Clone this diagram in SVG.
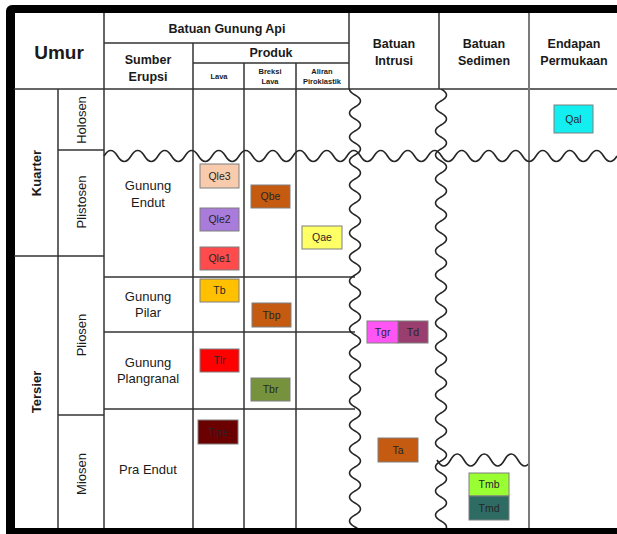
<svg xmlns="http://www.w3.org/2000/svg" width="617" height="534" viewBox="0 0 617 534">
<style>
.ln{stroke:#333;stroke-width:1.5;fill:none}
.lg{stroke:#7a7a7a;stroke-width:2;fill:none}
.wv{stroke:#262626;stroke-width:1.6;fill:none}
.hb{font-family:"Liberation Sans",Arial,sans-serif;font-weight:bold;fill:#1a1a1a;text-anchor:middle}
.hr{font-family:"Liberation Sans",Arial,sans-serif;fill:#1a1a1a;text-anchor:middle}
.bx{stroke:#7f7f7f;stroke-width:1}
.bt{font-family:"Liberation Sans",Arial,sans-serif;font-size:10.5px;fill:#262626;text-anchor:middle}
</style>
<defs>
<clipPath id="cBody"><rect x="0" y="89" width="617" height="439"/></clipPath>
<clipPath id="cSed"><rect x="430" y="89" width="98" height="439"/></clipPath>
</defs>
<rect width="617" height="534" fill="#fff"/>
<g id="frame">
<path d="M617,5 H12 a6,6 0 0 0 -6,6 V534 H617 V528 H15 V13 H617 Z" fill="#000"/>
</g>
<g id="grid">
<line class="ln" x1="14" y1="89" x2="617" y2="89"/>
<line class="ln" x1="104" y1="43" x2="349" y2="43"/>
<line class="ln" x1="193" y1="63" x2="349" y2="63"/>
<line class="ln" x1="58" y1="89" x2="58" y2="528"/>
<line class="ln" x1="104" y1="13" x2="104" y2="528"/>
<line class="ln" x1="193" y1="43" x2="193" y2="528"/>
<line class="ln" x1="244" y1="63" x2="244" y2="528"/>
<line class="ln" x1="296" y1="63" x2="296" y2="528"/>
<line class="ln" x1="349" y1="13" x2="349" y2="89"/>
<line class="ln" x1="439" y1="13" x2="439" y2="89"/>
<line class="lg" x1="529" y1="13" x2="529" y2="528"/>
<line class="ln" x1="58" y1="150" x2="104" y2="150"/>
<line class="ln" x1="14" y1="256" x2="104" y2="256"/>
<line class="ln" x1="58" y1="415" x2="104" y2="415"/>
<line class="ln" x1="104" y1="277" x2="355" y2="277"/>
<line class="ln" x1="104" y1="332" x2="355" y2="332"/>
<line class="ln" x1="104" y1="409" x2="355" y2="409"/>
</g>
<g id="unconformities">
<path class="wv" d="M104,156 q6.75,-11 13.5,0 t13.5,0 t13.5,0 t13.5,0 t13.5,0 t13.5,0 t13.5,0 t13.5,0 t13.5,0 t13.5,0 t13.5,0 t13.5,0 t13.5,0 t13.5,0 t13.5,0 t13.5,0 t13.5,0 t13.5,0 t13.5,0 t13.5,0 t13.5,0 t13.5,0 t13.5,0 t13.5,0 t13.5,0 t13.5,0 t13.5,0 t13.5,0 t13.5,0 t13.5,0 t13.5,0 t13.5,0 t13.5,0 t13.5,0 t13.5,0 t13.5,0 t13.5,0 t13.5,0"/>
<g clip-path="url(#cBody)">
<path class="wv" d="M355,83 q-11,6 0,12 t0,12 t0,12 t0,12 t0,12 t0,12 t0,12 t0,12 t0,12 t0,12 t0,12 t0,12 t0,12 t0,12 t0,12 t0,12 t0,12 t0,12 t0,12 t0,12 t0,12 t0,12 t0,12 t0,12 t0,12 t0,12 t0,12 t0,12 t0,12 t0,12 t0,12 t0,12 t0,12 t0,12 t0,12 t0,12 t0,12 t0,12"/>
<path class="wv" d="M441,89 q11,6 0,12 t0,12 t0,12 t0,12 t0,12 t0,12 t0,12 t0,12 t0,12 t0,12 t0,12 t0,12 t0,12 t0,12 t0,12 t0,12 t0,12 t0,12 t0,12 t0,12 t0,12 t0,12 t0,12 t0,12 t0,12 t0,12 t0,12 t0,12 t0,12 t0,12 t0,12 t0,12 t0,12 t0,12 t0,12 t0,12 t0,12"/>
</g>
<g clip-path="url(#cSed)">
<path class="wv" d="M437,460 q6.75,12 13.5,0 t13.5,0 t13.5,0 t13.5,0 t13.5,0 t13.5,0 t13.5,0"/>
</g>
</g>
<g id="headers">
<text class="hb" x="59" y="59" font-size="19">Umur</text>
<text class="hb" x="227" y="33" font-size="12.5">Batuan Gunung Api</text>
<text class="hb" x="148" y="64" font-size="12.5">Sumber</text>
<text class="hb" x="148" y="81" font-size="12.5">Erupsi</text>
<text class="hb" x="271" y="57" font-size="12.5">Produk</text>
<text class="hb" x="219" y="79" font-size="7.5">Lava</text>
<text class="hb" x="270" y="74" font-size="7.5">Breksi</text>
<text class="hb" x="270" y="84" font-size="7.5">Lava</text>
<text class="hb" x="322" y="74" font-size="7.5">Aliran</text>
<text class="hb" x="322" y="84" font-size="7.5">Piroklastik</text>
<text class="hb" x="394" y="48" font-size="12.5">Batuan</text>
<text class="hb" x="394" y="65" font-size="12.5">Intrusi</text>
<text class="hb" x="484" y="48" font-size="12.5">Batuan</text>
<text class="hb" x="484" y="65" font-size="12.5">Sedimen</text>
<text class="hb" x="574" y="48" font-size="12.5">Endapan</text>
<text class="hb" x="574" y="65" font-size="12.5">Permukaan</text>
</g>
<g id="periods">
<text class="hb" font-size="13" transform="translate(41,173) rotate(-90)">Kuarter</text>
<text class="hb" font-size="13" transform="translate(41,392) rotate(-90)">Tersier</text>
<text class="hr" font-size="13" transform="translate(86,120) rotate(-90)">Holosen</text>
<text class="hr" font-size="13" transform="translate(86,202) rotate(-90)">Plistosen</text>
<text class="hr" font-size="13" transform="translate(86,335) rotate(-90)">Pliosen</text>
<text class="hr" font-size="13" transform="translate(86,474) rotate(-90)">Miosen</text>
</g>
<g id="sources">
<text class="hr" x="148" y="190" font-size="13">Gunung</text>
<text class="hr" x="148" y="207" font-size="13">Endut</text>
<text class="hr" x="148" y="301" font-size="13">Gunung</text>
<text class="hr" x="148" y="317" font-size="13">Pilar</text>
<text class="hr" x="148" y="367" font-size="13">Gunung</text>
<text class="hr" x="148" y="383" font-size="13">Plangranal</text>
<text class="hr" x="148" y="474" font-size="13">Pra Endut</text>
</g>
<g id="Qal"><rect class="bx" x="554" y="105" width="39" height="28" fill="#13EEF0"/><text class="bt" x="573.5" y="123">Qal</text></g>
<g id="Qle3"><rect class="bx" x="200" y="164" width="39" height="24" fill="#F8CBAD"/><text class="bt" x="219.5" y="180">Qle3</text></g>
<g id="Qbe"><rect class="bx" x="251" y="185" width="39" height="23" fill="#C55A11"/><text class="bt" x="270.5" y="200">Qbe</text></g>
<g id="Qle2"><rect class="bx" x="200" y="208" width="39" height="23" fill="#A97BDB"/><text class="bt" x="219.5" y="223">Qle2</text></g>
<g id="Qae"><rect class="bx" x="302" y="226" width="40" height="23" fill="#FFFF66"/><text class="bt" x="322" y="241">Qae</text></g>
<g id="Qle1"><rect class="bx" x="200" y="247" width="39" height="23" fill="#FF4B4B"/><text class="bt" x="219.5" y="262">Qle1</text></g>
<g id="Tb"><rect class="bx" x="200" y="279" width="39" height="23" fill="#FFC000"/><text class="bt" x="219.5" y="294">Tb</text></g>
<g id="Tbp"><rect class="bx" x="252" y="303" width="39" height="24" fill="#C55A11"/><text class="bt" x="271.5" y="319">Tbp</text></g>
<g id="Tlr"><rect class="bx" x="200" y="349" width="39" height="23" fill="#FF0000"/><text class="bt" x="219.5" y="364">Tlr</text></g>
<g id="Tbr"><rect class="bx" x="251" y="378" width="39" height="23" fill="#76923C"/><text class="bt" x="270.5" y="393">Tbr</text></g>
<g id="Tipe"><rect class="bx" x="198" y="420" width="40" height="24" fill="#6B0000"/><text class="bt" x="218" y="436">Tipe</text></g>
<g id="Tgr"><rect class="bx" x="367" y="321" width="31" height="22" fill="#FF55F5"/><text class="bt" x="382.5" y="336">Tgr</text></g>
<g id="Td"><rect class="bx" x="398" y="321" width="30" height="22" fill="#993E6E"/><text class="bt" x="413" y="336">Td</text></g>
<g id="Ta"><rect class="bx" x="378" y="438" width="40" height="24" fill="#C55A11"/><text class="bt" x="398" y="454">Ta</text></g>
<g id="Tmb"><rect class="bx" x="469" y="473" width="40" height="23" fill="#99FF33"/><text class="bt" x="489" y="488">Tmb</text></g>
<g id="Tmd"><rect class="bx" x="469" y="496" width="40" height="24" fill="#2E6B62"/><text class="bt" x="489" y="512">Tmd</text></g>
</svg>
